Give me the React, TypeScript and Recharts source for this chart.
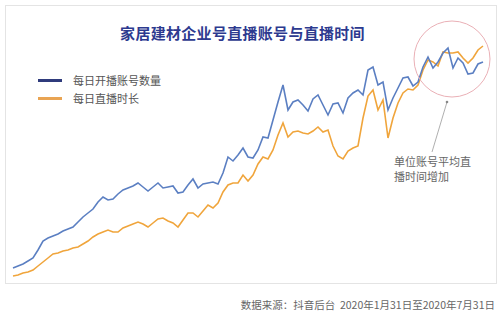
import { LineChart, Line, XAxis, YAxis } from "recharts";

// 每日开播账号数量 (相对值, 2020-01-31 ~ 2020-07-31)
const accounts = [
  12, 14, 16, 19, 22, 30, 39, 42, 44, 46, 49, 51, 53, 58, 63, 67, 71, 78, 83, 80,
  81, 86, 90, 92, 94, 97, 93, 89, 93, 97, 92, 93, 94, 87, 88, 95, 101, 92, 96, 97,
  98, 96, 107, 123, 119, 125, 132, 123, 122, 130, 143, 142, 160, 178, 195, 170, 178, 180, 175, 169,
  181, 185, 175, 165, 176, 177, 167, 182, 187, 190, 185, 210, 213, 195, 198, 170, 182, 192, 202, 203,
  194, 198, 213, 223, 212, 218, 227, 232, 212, 222, 217, 206, 207, 216, 218,
];

// 每日直播时长 (相对值)
const duration = [
  4, 5, 7, 8, 10, 14, 18, 22, 26, 27, 29, 30, 32, 33, 36, 39, 43, 46, 48, 50,
  48, 48, 52, 54, 56, 58, 56, 53, 57, 61, 62, 59, 57, 53, 60, 67, 67, 63, 69, 75,
  72, 77, 88, 95, 97, 97, 105, 99, 105, 116, 123, 121, 130, 145, 157, 143, 148, 149, 147, 146,
  149, 153, 148, 150, 134, 124, 121, 129, 132, 134, 162, 184, 190, 170, 180, 142, 162, 177, 187, 191,
  190, 195, 210, 220, 218, 214, 228, 227, 227, 228, 222, 217, 222, 230, 234,
];

const seriesNames = ["每日开播账号数量", "每日直播时长"];
const seriesColors = ["#5b7fc2", "#f0a53c"];
const legendColors = ["#2f3b7c", "#e9a453"];

const data = accounts.map((v, i) => ({ day: i, accounts: v, duration: duration[i] }));

export default function App() {
  return (
    <div
      style={{
        position: "fixed",
        left: 0,
        top: 0,
        width: 500,
        height: 313,
        background: "#fff",
        fontFamily: "'Noto Sans CJK SC', 'Noto Sans', sans-serif",
        overflow: "hidden",
      }}
    >
      {/* 卡片边框 */}
      <div
        style={{
          position: "absolute",
          left: 5,
          top: 5,
          width: 490,
          height: 277,
          border: "1px solid #e4e4e4",
        }}
      />
      <div
        style={{
          position: "absolute",
          left: 0,
          top: 22,
          width: 485,
          textAlign: "center",
          fontSize: 15,
          fontWeight: 700,
          color: "#2d3a8f",
          letterSpacing: 0.3,
        }}
      >
        家居建材企业号直播账号与直播时间
      </div>

      {/* 图例 */}
      {seriesNames.map((name, i) => (
        <div
          key={name}
          style={{
            position: "absolute",
            left: 38,
            top: 72 + i * 18,
            display: "flex",
            alignItems: "center",
            fontSize: 11,
            color: "#555",
          }}
        >
          <span
            style={{
              display: "inline-block",
              width: 24,
              height: 3,
              background: legendColors[i],
              marginRight: 11,
            }}
          />
          {name}
        </div>
      ))}

      <div style={{ position: "absolute", left: 0, top: 0 }}>
        <LineChart
          width={500}
          height={313}
          data={data}
          margin={{ top: 20, right: 17, bottom: 33, left: 13 }}
        >
          <XAxis dataKey="day" hide />
          <YAxis hide domain={[0, 260]} />
          <Line
            type="linear"
            dataKey="duration"
            stroke={seriesColors[1]}
            strokeWidth={1.6}
            dot={false}
            isAnimationActive={false}
          />
          <Line
            type="linear"
            dataKey="accounts"
            stroke={seriesColors[0]}
            strokeWidth={1.6}
            dot={false}
            isAnimationActive={false}
          />
        </LineChart>
      </div>

      {/* 标注 */}
      <svg
        width={500}
        height={313}
        style={{ position: "absolute", left: 0, top: 0, pointerEvents: "none" }}
      >
        <ellipse cx={452} cy={59} rx={38} ry={38} fill="none" stroke="#eab0b6" strokeWidth={1} />
        <line x1={447} y1={102} x2={432} y2={152} stroke="#9a9a9a" strokeWidth={0.8} />
        <circle cx={447} cy={102} r={1.3} fill="#888" />
      </svg>
      <div
        style={{
          position: "absolute",
          left: 394,
          top: 154,
          fontSize: 11,
          lineHeight: "15px",
          color: "#666",
        }}
      >
        单位账号平均直
        <br />
        播时间增加
      </div>

      <div
        style={{
          position: "absolute",
          right: 5,
          top: 297,
          fontSize: 10.5,
          color: "#666",
          whiteSpace: "pre",
        }}
      >
        数据来源：抖音后台  2020年1月31日至2020年7月31日
      </div>
    </div>
  );
}
